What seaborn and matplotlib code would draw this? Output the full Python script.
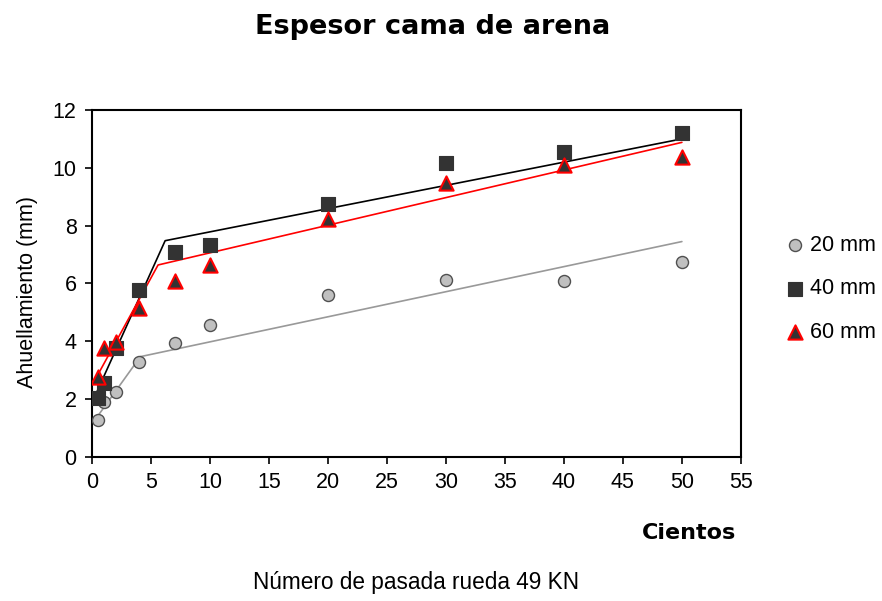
import matplotlib
matplotlib.use("Agg")
import matplotlib.pyplot as plt
import seaborn as sns
import pandas as pd

# Measured rutting (mm) per hundreds of wheel passes, by sand bed thickness
pasadas = [0.5, 1, 2, 4, 7, 10, 20, 30, 40, 50]
esp_20mm = [1.28, 1.91, 2.26, 3.3, 3.93, 4.57, 5.6, 6.12, 6.07, 6.76]
esp_40mm = [2.04, 2.56, 3.76, 5.78, 7.08, 7.34, 8.75, 10.18, 10.56, 11.2]
esp_60mm = [2.78, 3.76, 3.99, 5.14, 6.07, 6.64, 8.24, 9.47, 10.1, 10.39]

# Two-segment trend lines (vertices)
tend_20_x = [0.25, 4.1, 50]
tend_20_y = [1.28, 3.47, 7.45]
tend_40_x = [0.1, 6.2, 50]
tend_40_y = [1.97, 7.48, 11.0]
tend_60_x = [0.1, 5.6, 50]
tend_60_y = [2.55, 6.64, 10.88]

series = ["20 mm", "40 mm", "60 mm"]

puntos = pd.DataFrame({
    "pasadas": pasadas * 3,
    "ahuellamiento": esp_20mm + esp_40mm + esp_60mm,
    "serie": [s for s in series for _ in pasadas],
})
tendencias = pd.DataFrame({
    "x": tend_20_x + tend_40_x + tend_60_x,
    "y": tend_20_y + tend_40_y + tend_60_y,
    "serie": [s for s, xs in zip(series, [tend_20_x, tend_40_x, tend_60_x]) for _ in xs],
})

sns.set_theme(style="white")
plt.rcParams["font.family"] = ["Liberation Sans", "DejaVu Sans"]

fig = plt.figure(figsize=(8.82, 6.01), dpi=100)
ax = fig.add_axes([0.1043, 0.2396, 0.7357, 0.5774])

line_colors = {"20 mm": "#999999", "40 mm": "#000000", "60 mm": "#ff0000"}
for s in series:
    sns.lineplot(data=tendencias[tendencias.serie == s], x="x", y="y",
                 sort=False, estimator=None, color=line_colors[s],
                 linewidth=1.2, ax=ax, legend=False, zorder=2)

styles = {
    "20 mm": dict(marker="o", s=75, color="#c0c0c0", edgecolor="#505050", linewidth=1.0),
    "40 mm": dict(marker="s", s=90, color="#333333", edgecolor="#333333", linewidth=0.8),
    "60 mm": dict(marker="^", s=105, color="#333333", edgecolor="#ff0000", linewidth=1.5),
}
for s in series:
    sns.scatterplot(data=puntos[puntos.serie == s], x="pasadas", y="ahuellamiento",
                    label=s, ax=ax, zorder=3, **styles[s])

ax.set_xlim(0, 55)
ax.set_ylim(0, 12)
ax.set_xticks(range(0, 56, 5))
ax.set_yticks(range(0, 13, 2))
ax.tick_params(axis="both", direction="out", length=5, width=1.2, color="black",
               labelsize=15.5, labelcolor="black", pad=6,
               bottom=True, left=True)
for sp in ax.spines.values():
    sp.set_color("black")
    sp.set_linewidth(1.5)
ax.set_xlabel("")
ax.set_ylabel("Ahuellamiento (mm)", fontsize=15.5, color="black")
ax.yaxis.set_label_coords(-0.083, 0.475)

leg = ax.legend(loc="center left", bbox_to_anchor=(1.07, 0.485), frameon=False,
                fontsize=15.5, labelspacing=1.05, handletextpad=0.3,
                handlelength=0.8, borderaxespad=0, borderpad=0)
for t in leg.get_texts():
    t.set_color("black")

fig.text(0.491, 0.955, "Espesor cama de arena", ha="center", va="center",
         fontsize=19.5, fontweight="bold", family="DejaVu Sans", color="black")
fig.text(0.781, 0.113, "Cientos", ha="center", va="center",
         fontsize=16, fontweight="bold", family="DejaVu Sans", color="black")
fig.text(0.472, 0.03, "Número de pasada rueda 49 KN", ha="center", va="center",
         fontsize=16.3, color="black")

fig.savefig("out.png", dpi=100, facecolor="white")
